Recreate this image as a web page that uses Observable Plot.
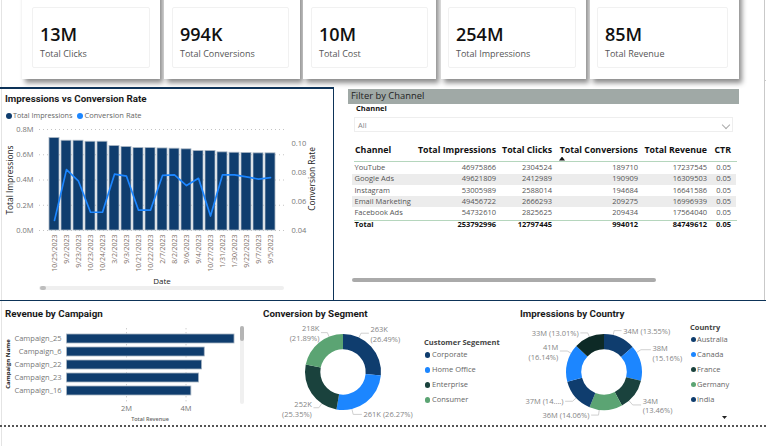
<!DOCTYPE html>
<html><head><meta charset="utf-8">
<script src="https://cdn.jsdelivr.net/npm/d3@7"></script>
<script src="https://cdn.jsdelivr.net/npm/@observablehq/plot@0.6"></script>
<style>
html,body{margin:0;padding:0;background:#fff;overflow:hidden}
#page{position:relative;width:766px;height:446px;overflow:hidden;font-family:"Open Sans",sans-serif;background:#fff}
#page div,#page svg{position:absolute}
.t{white-space:nowrap;line-height:1}
</style></head><body><div id="page"></div>
<script>
// KPI cards
const kpiValues=["13M","994K","10M","254M","85M"];
const kpiLabels=["Total Clicks","Total Conversions","Total Cost","Total Impressions","Total Revenue"];
// Combo chart
const dates=["10/25/2023","9/2/2023","9/23/2023","10/23/2023","10/24/2023","3/2/2023","9/3/2023","10/21/2023","10/22/2023","2/7/2023","8/2/2023","9/6/2023","9/4/2023","10/27/2023","1/31/2023","1/30/2023","9/22/2023","9/7/2023","9/5/2023"];
const impressions=[732000,711000,711000,703000,703000,669000,661000,653000,653000,650000,648000,643000,630000,630000,619000,616000,614000,611000,611000];
const conversionRate=[.047,.082,.074,.0526,.0526,.0789,.0775,.054,.054,.078,.0784,.071,.076,.050,.0784,.0784,.077,.0755,.0765];
// Table
const tableHeaders=["Channel","Total Impressions","Total Clicks","Total Conversions","Total Revenue","CTR"];
const channels=["YouTube","Google Ads","Instagram","Email Marketing","Facebook Ads","Total"];
const chImpressions=[46975866,49621809,53005989,49456722,54732610,253792996];
const chClicks=[2304524,2412989,2588014,2666293,2825625,12797445];
const chConversions=[189710,190909,194684,209275,209434,994012];
const chRevenue=[17237545,16309503,16641586,16996939,17564040,84749612];
const chCtr=["0.05","0.05","0.05","0.05","0.05","0.05"];
// Revenue by campaign
const campaigns=["Campaign_25","Campaign_6","Campaign_22","Campaign_23","Campaign_16"];
const campaignRevenue=[5630000,4630000,4540000,4440000,4180000];
// Donuts
const segments=["Corporate","Home Office","Enterprise","Consumer"];
const segmentShare=[26.49,26.27,25.35,21.89];
const segmentLabels=["263K\n(26.49%)","261K (26.27%)","252K\n(25.35%)","218K\n(21.89%)"];
const countries=["Australia","Canada","France","Germany","India"];
const countryShare=[13.55,15.16,13.46,14.06,14.62,16.14,13.01];
const countryLabels=["34M (13.55%)","38M\n(15.16%)","34M\n(13.46%)","36M (14.06%)","37M (14....)","41M\n(16.14%)","33M (13.01%)"];
// Styles
const NAVY="#0f3d6e",BLUE="#1c86ff",DKGREEN="#1a423d",GREEN="#5ba473",BLACKGREEN="#0d2a26";
const segmentColors=[NAVY,BLUE,DKGREEN,GREEN];
const countrySliceColors=[NAVY,BLUE,DKGREEN,GREEN,NAVY,BLUE,BLACKGREEN];
const countryLegendColors=[NAVY,BLUE,DKGREEN,GREEN,NAVY];
const segmentLeaders=[[24,7.5,1],[167,8.3,0],[215,5,1],[338,6,0]];
const countryLeaders=[[13,7,0],[58,9.5,3],[139,8,.5],[188,7,0],[228,7,0],[300,7,1],[337,7,0]];

const page=document.getElementById("page");
function box(x,y,w,h,css=""){const d=document.createElement("div");d.style.cssText=`left:${x}px;top:${y}px;width:${w}px;height:${h}px;${css}`;page.append(d);return d}
function txt(x,y,s,size,color,css="",align="left"){const d=document.createElement("div");d.className="t";d.textContent=s;
 const tx=align==="right"?"-100%":align==="center"?"-50%":"0";
 d.style.cssText=`left:${x}px;top:${y}px;font-size:${size}px;color:${color};transform:translate(${tx},-50%);${css}`;page.append(d);return d}
function place(svg,x,y){svg.style.left=x+"px";svg.style.top=y+"px";svg.style.background="transparent";svg.style.overflow="visible";page.append(svg)}
const FONT='"Open Sans",sans-serif';
const TITLE='font-family:Roboto,sans-serif;font-weight:700;';

// frame lines
box(1,0,1,446,"background:#e4e4e4");
box(764,0,1,300,"background:#c9c9c9");
box(764,80,2,1,"background:#c9c9c9");
// KPI
const cardX=[[22,160,32,150],[164,300,172,289],[303,436,311,428],[441,586,448,576],[590,739,597,728]];
cardX.forEach((c,i)=>{
 box(c[0],-12,c[1]-c[0],91,"background:#fff;box-shadow:3px 4px 5px #8c8c8c");
});
cardX.forEach((c,i)=>{
 box(c[2],7,c[3]-c[2],61,"border:1px solid #f1f1f1;box-sizing:border-box;border-radius:2px");
 txt(c[2]+8,34,kpiValues[i],18,"#111","font-weight:600");
 txt(c[2]+8,52.5,kpiLabels[i],9,"#555");
});
box(348,88.5,391,1,"background:#a8aeab");

// combo panel frame
box(0,87,334,1.5,"background:#0d3358");
box(332.5,87,1.3,213,"background:#0d3358");
box(0,300,766,1.3,"background:#0d3358");
txt(5,99,"Impressions vs Conversion Rate",9.8,"#1a1a1a",TITLE);
box(5.5,112.5,6,6,`border-radius:50%;background:${NAVY}`);
txt(13,115.5,"Total Impressions",7.2,"#666");
box(77,112.5,6,6,`border-radius:50%;background:${BLUE}`);
txt(84.5,115.5,"Conversion Rate",7.5,"#666");

const comboRows=dates.map((d,i)=>({date:d,imp:impressions[i],rate:conversionRate[i]}));
const comboBase={width:334,height:170,marginTop:9,marginBottom:60,marginLeft:43,marginRight:53};
const xBand={domain:dates,padding:.2,label:null};
const comboBars=Plot.plot({...comboBase,
 style:{fontFamily:FONT,fontSize:"8px",color:"#777"},
 x:xBand,
 y:{domain:[0,800000]},
 marks:[
  Plot.ruleY([0,200000,400000,600000,800000],{stroke:"#c4c4c4",strokeDasharray:"1 3",insetLeft:-4,insetRight:-3}),
  Plot.barY(comboRows,{x:"date",y:"imp",fill:NAVY,stroke:"#a9b6c4",strokeWidth:.8}),
  Plot.axisY({ticks:[0,200000,400000,600000,800000],tickFormat:d=>(d/1e6).toFixed(1)+"M",tickSize:0,tickPadding:10,label:null,fontSize:7.5}),
  Plot.axisX({tickRotate:-90,tickSize:0,tickPadding:4,label:null,fontSize:7,fill:"#7d7068"})
 ]});
place(comboBars,0,120);
const comboLine=Plot.plot({...comboBase,
 style:{fontFamily:FONT,fontSize:"8px",color:"#777"},
 x:{...xBand,axis:null},
 y:{domain:[.04,.1097]},
 marks:[
  Plot.lineY(comboRows,{x:"date",y:"rate",stroke:BLUE,strokeWidth:1.7}),
  Plot.axisY({anchor:"right",ticks:[.04,.06,.08,.10],tickFormat:d3.format(".2f"),tickSize:0,tickPadding:10,label:null,fontSize:7.5})
 ]});
place(comboLine,0,120);
txt(10,180,"Total Impressions",8.4,"#222","transform:translate(-50%,-50%) rotate(-90deg);font-weight:500",);
txt(312,179,"Conversion Rate",8.4,"#222","transform:translate(-50%,-50%) rotate(-90deg);font-weight:500");
txt(162,281,"Date",8,"#222","font-weight:500","center");
box(39,286,245,4,"background:#efefef;border-radius:2px");
box(40,286,6,4,"background:#bdbdbd;border-radius:2px");

// Filter + table
box(348,89,391,14.5,"background:#a0a9a6");
txt(351,95.5,"Filter by Channel",9.4,"#222","font-weight:500");
txt(356,108.5,"Channel",7.5,"#111","font-weight:700");
box(354,117,379,15,"border:1px solid #eee;box-sizing:border-box");
txt(358,126,"All",7.5,"#888");
box(723,121.5,5,5,"border-right:1px solid #aaa;border-bottom:1px solid #aaa;transform:rotate(45deg)");
const colRight=[0,496,552,638,707,731];
tableHeaders.forEach((h,i)=>{ i===0?txt(355,150,h,8.8,"#111","font-weight:700"):txt(colRight[i],150,h,8.8,"#111","font-weight:700","right") });
box(559,156.5,6,4,"background:#111;clip-path:polygon(50% 0,100% 100%,0 100%)");
box(354,161,383,1,"background:#b5d6bd");
box(354,220,383,1,"background:#b5d6bd");
const rowY=[168,179,191,202,213,225];
box(352,174,384,10.5,"background:#ececec");
box(352,196,384,10.5,"background:#ececec");
channels.forEach((c,r)=>{
 const total=r===5,css=total?"font-weight:700":"",col=total?"#111":"#555";
 txt(354.5,rowY[r],c,7.5,total?"#111":"#555",css);
 [chImpressions,chClicks,chConversions,chRevenue,chCtr].forEach((arr,j)=>txt(colRight[j+1],rowY[r],String(arr[r]),7.5,col,css,"right"));
});
box(352,277.5,304,4,"background:#aaa;border-radius:2px");

// Revenue by campaign
txt(5,313.5,"Revenue by Campaign",9.8,"#1a1a1a",TITLE);
const revRows=campaigns.map((c,i)=>({c,v:campaignRevenue[i]}));
place(Plot.plot({width:250,height:105,marginTop:9.3,marginBottom:25.7,marginLeft:66.5,marginRight:15,
 style:{fontFamily:FONT,fontSize:"7.5px",color:"#777"},
 x:{domain:[0,5663000],label:null},
 y:{domain:campaigns,padding:.3,label:null},
 marks:[
  Plot.ruleX([2000000,4000000],{stroke:"#bbb",strokeDasharray:"1 3",insetTop:-1,insetBottom:-3}),
  Plot.barX(revRows,{x:"v",y:"c",fill:NAVY,stroke:"#a9b6c4",strokeWidth:.8}),
  Plot.axisX({ticks:[2000000,4000000],tickFormat:d=>d/1e6+"M",tickSize:0,tickPadding:6,label:null}),
  Plot.axisY({tickSize:0,tickPadding:5.5,label:null})
 ]}),0,320);
txt(150,420,"Total Revenue",5.5,"#666","font-weight:600","center");
txt(8,364,"Campaign Name",6,"#222","transform:translate(-50%,-50%) rotate(-90deg);font-weight:700");
box(240,326,4,78,"background:#f0f0f0;border-radius:2px");
box(240,326,4,15,"background:#b5b5b5;border-radius:2px");

// Donuts
const R=38,r0=22.7;
function donut({left,top,width,height,cx,cy,shares,colors,labels,leaders}){
 const total=d3.sum(shares);let acc=0;
 const rows=shares.map((s,i)=>{const a0=acc/total*2*Math.PI;acc+=s;return{a0,a1:acc/total*2*Math.PI,color:colors[i],label:labels[i],deg:leaders[i][0],run:leaders[i][1],dy:leaders[i][2]}});
 rows.forEach(d=>{const a=d.deg*Math.PI/180,s=Math.sin(a),c=Math.cos(a),dir=s>=0?1:-1;
  d.dir=dir;d.px=R*s;d.py=-R*c;d.ex=(R+5)*s;d.ey=-(R+5)*c;d.hx=d.ex+dir*d.run;d.tx=d.hx+dir*2;d.ty=d.ey+d.dy});
 const leaderPts=rows.flatMap((d,i)=>[{i,x:d.px,y:d.py},{i,x:d.ex,y:d.ey},{i,x:d.hx,y:d.ey}]);
 const arcs=(index,scales)=>{
  const g=d3.create("svg:g");const ox=scales.x(0),oy=scales.y(0),k=scales.x(1)-scales.x(0);
  const arc=d3.arc().innerRadius(r0*k).outerRadius(R*k);
  g.selectAll("path").data(rows).join("path").attr("transform",`translate(${ox},${oy})`)
   .attr("d",d=>arc({startAngle:d.a0,endAngle:d.a1})).attr("fill",d=>d.color);
  return g.node();
 };
 const txtOpt={x:"tx",y:"ty",text:"label",fontSize:7.5,fill:"#858585",lineAnchor:"middle",lineHeight:1.28};
 place(Plot.plot({width,height,margin:0,
  style:{fontFamily:FONT},
  x:{domain:[-cx,width-cx],range:[0,width],axis:null},
  y:{domain:[-cy,height-cy],range:[0,height],axis:null},
  marks:[
   Plot.line(leaderPts,{x:"x",y:"y",z:"i",stroke:"#c4c4c4",strokeWidth:.8}),
   arcs,
   Plot.text(rows.filter(d=>d.dir>0),{...txtOpt,textAnchor:"start"}),
   Plot.text(rows.filter(d=>d.dir<0),{...txtOpt,textAnchor:"end"})
  ]}),left,top);
}
txt(263,313.5,"Conversion by Segment",9.8,"#1a1a1a",TITLE);
donut({left:255,top:320,width:165,height:105,cx:88,cy:52,shares:segmentShare,colors:segmentColors,labels:segmentLabels,leaders:segmentLeaders});
txt(424,342.5,"Customer Segement",7.5,"#444","font-weight:700");
segments.forEach((s,i)=>{const y=355+i*15;box(424.5,y-2.7,5.5,5.5,`border-radius:50%;background:${segmentColors[i]}`);txt(432,y,s,7.5,"#666")});

txt(520,313.5,"Impressions by Country",9.8,"#1a1a1a",TITLE);
donut({left:510,top:320,width:178,height:105,cx:94,cy:52,shares:countryShare,colors:countrySliceColors,labels:countryLabels,leaders:countryLeaders});
txt(690,327.5,"Country",7.5,"#444","font-weight:700");
countries.forEach((s,i)=>{const y=339.5+i*15;box(690.5,y-2.7,5.5,5.5,`border-radius:50%;background:${countryLegendColors[i]}`);txt(697,y,s,7.5,"#666")});
box(722,416,5,3,"background:#222;clip-path:polygon(0 0,100% 0,50% 100%)");

box(0,425,766,0,"border-top:2px dotted #555");
</script></body></html>
